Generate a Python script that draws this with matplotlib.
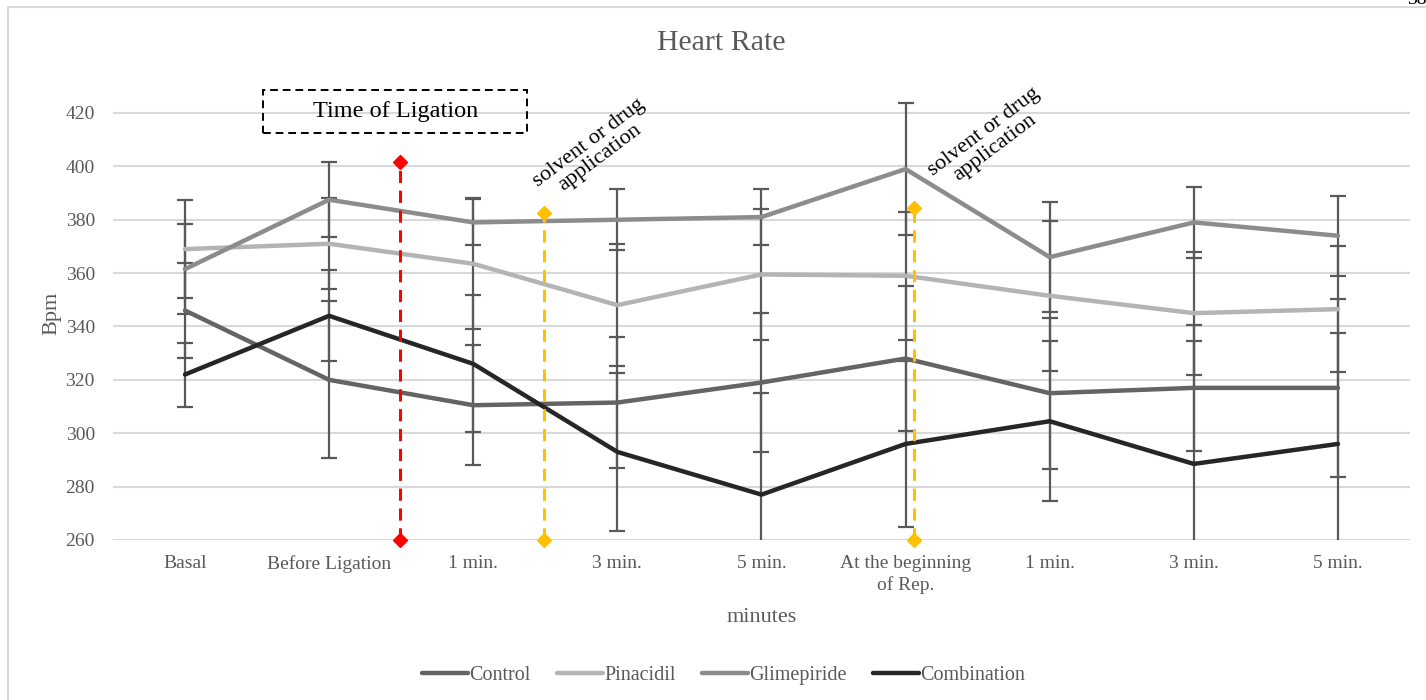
import numpy as np
import matplotlib.pyplot as plt
from matplotlib.patches import Rectangle

plt.rcParams['font.family'] = ['Liberation Serif', 'DejaVu Serif']

categories = ['Basal', 'Before Ligation', '1 min.', '3 min.', '5 min.',
              'At the beginning\nof Rep.', '1 min.', '3 min.', '5 min.']

control = [346, 320, 310.5, 311.5, 319, 328, 315, 317, 317]
control_err = [17.7, 29.4, 22.5, 24.5, 26, 27, 28.3, 23.7, 33.3]
pinacidil = [369, 371, 363.5, 348, 359.5, 359, 351.5, 345, 346.5]
pinacidil_err = [18.5, 17, 24.5, 22.8, 24.4, 24, 28, 23, 23.5]
glimepiride = [361.5, 387.5, 379, 380, 381, 399, 366, 379, 374]
glimepiride_err = [17, 14, 8.6, 11.5, 10.5, 24.6, 20.5, 13.2, 15]
combination = [322, 344, 326, 293, 277, 296, 304.5, 288.5, 296]
combination_err = [12, 17, 25.7, 29.5, 38, 31, 30, 46, 41.5]

series = [('Control', control, control_err, '#646464'),
          ('Pinacidil', pinacidil, pinacidil_err, '#b4b4b4'),
          ('Glimepiride', glimepiride, glimepiride_err, '#8c8c8c'),
          ('Combination', combination, combination_err, '#262626')]

grey = '#595959'

fig = plt.figure(figsize=(14.26, 7), dpi=100)
ax = fig.add_axes([0.0792, 0.2286, 0.9096, 0.6481])
x = np.arange(len(categories))

for name, vals, err, col in series:
    ax.errorbar(x, vals, yerr=err, fmt='none', ecolor=grey, elinewidth=1.6,
                capsize=5.5, capthick=1.6, zorder=2)
for name, vals, err, col in series:
    ax.plot(x, vals, color=col, lw=3.2, label=name, zorder=3,
            solid_capstyle='round')

# event markers
for xv, ytop, col in [(1.49, 401.5, '#ff0000'), (2.49, 382.5, '#ffc000'),
                      (5.06, 384.4, '#ffc000')]:
    ax.plot([xv, xv], [260, ytop], color=col, lw=2.2, ls=(0, (4, 2.5)),
            marker='D', markersize=7, clip_on=False, zorder=4)

ax.add_patch(Rectangle((0.542, 412.5), 1.833, 16.1, fill=False, ec='black',
                       lw=1.4, ls=(0, (4, 2.5)), clip_on=False, zorder=5))
ax.text(1.458, 420.6, 'Time of Ligation', ha='center', va='center',
        fontsize=17.5, color='black')
for xc, yc in [(2.84, 406.1), (5.58, 409.9)]:
    ax.text(xc, yc, 'solvent or drug\napplication', ha='center', va='center',
            rotation=37, fontsize=16, color='black', linespacing=1.0,
            rotation_mode='anchor')

ax.set_xlim(-0.5, len(categories) - 0.5)
ax.set_ylim(260, 430)
ax.set_yticks(range(260, 421, 20))
ax.set_xticks(x)
ax.set_xticklabels(categories, linespacing=1.3)
ax.tick_params(axis='both', length=0, labelsize=14, colors=grey)
ax.tick_params(axis='x', pad=11)
ax.tick_params(axis='y', pad=13)
ax.grid(axis='y', color='#d9d9d9', lw=1.5)
ax.set_axisbelow(True)
for s in ax.spines.values():
    s.set_visible(False)

ax.set_ylabel('Bpm', fontsize=16, color=grey, labelpad=3)
ax.set_xlabel('minutes', fontsize=16, color=grey, labelpad=10)
fig.text(0.5056, 1 - 43 / 700, 'Heart Rate', ha='center', va='center',
         fontsize=21.5, color=grey)

fig.legend(loc='center', bbox_to_anchor=(0.5074, 0.035), ncol=4, frameon=False,
           fontsize=14.5, labelcolor=grey, handlelength=2.3, handletextpad=0.05,
           columnspacing=1.3)

fig.patches.append(Rectangle((0.0056, -0.01), 1.0, 1.0, transform=fig.transFigure,
                             fill=False, ec='#d9d9d9', lw=1.5))
fig.text(0.9935, 1.0, '38', ha='center', va='center', fontsize=14,
         color='black')

fig.savefig('out.png', dpi=100)
